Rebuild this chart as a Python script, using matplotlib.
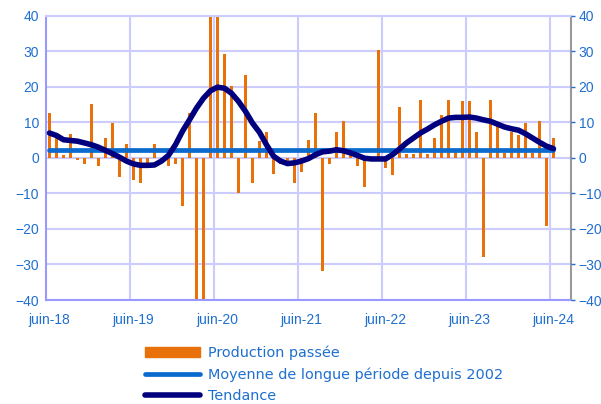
import numpy as np
import matplotlib.pyplot as plt
from matplotlib.patches import Patch
from matplotlib.lines import Line2D

# monthly, juin-2018 .. juin-2024
production = [12.6, 6.1, 0.8, 6.8, -0.6, -1.7, 15.2, -2.3, 5.7, 9.9,
              -5.4, 4.0, -6.1, -7.1, -1.4, 3.9, -1.0, -2.3, -1.7, -13.6,
              12.6, -45, -42, 42, 48, 29.3, 20.1, -9.8, 23.4, -7.0,
              4.7, 7.3, -4.4, -1.7, -1.5, -7.0, -3.9, 5.1, 12.6, -31.8,
              -1.7, 7.3, 10.5, 0.8, -2.3, -8.1, -0.5, 30.4, -2.8, -4.9,
              14.2, 1.0, 1.0, 16.4, 1.0, 5.7, 12.1, 16.4, 2.0, 15.9,
              15.9, 7.3, -28.0, 16.4, 8.9, 1.5, 7.3, 6.3, 9.8, 1.5,
              10.5, -19.3, 5.7]
tendance = [7.0, 6.3, 5.1, 4.9, 4.7, 4.2, 3.7, 3.0, 2.1, 1.2,
            0.2, -0.9, -1.7, -2.1, -2.1, -2.0, -0.9, 0.7, 3.7, 7.5,
            10.7, 14.0, 16.8, 18.9, 19.9, 19.6, 18.2, 15.9, 13.1, 9.8,
            7.2, 3.7, 0.5, -0.9, -1.6, -1.4, -0.9, -0.2, 0.9, 1.7,
            1.9, 2.3, 2.0, 1.4, 0.7, -0.1, -0.3, -0.3, -0.3, 0.9,
            2.5, 4.2, 5.6, 7.0, 8.1, 9.3, 10.3, 11.2, 11.4, 11.4,
            11.5, 11.2, 10.7, 10.3, 9.5, 8.7, 8.2, 7.8, 6.8, 5.6,
            4.4, 3.3, 2.6]
moyenne = 2.3
xlabels = ['juin-18', 'juin-19', 'juin-20', 'juin-21', 'juin-22', 'juin-23', 'juin-24']
yticks = [-40, -30, -20, -10, 0, 10, 20, 30, 40]

ORANGE = '#E8710A'
BLUE = '#0A6ACD'
NAVY = '#00007F'
TXT = '#1F6FD0'
GRID = '#CCCCFF'


def main():
    plt.rcParams['font.family'] = ['Liberation Sans', 'DejaVu Sans']
    fig = plt.figure(figsize=(6.01, 4.04), dpi=100)
    ax = fig.add_axes([0.0765, 0.2574, 0.8735, 0.7036])

    n = len(production)
    x = np.arange(n)
    ax.bar(x, production, width=0.48, color=ORANGE, zorder=2)
    ax.plot(x, [moyenne] * n, color=BLUE, lw=3.4, solid_capstyle='round', zorder=3)
    ax.plot(x, tendance, color=NAVY, lw=4.0, solid_capstyle='round',
            solid_joinstyle='round', zorder=4)

    ax.set_xlim(-0.5, 74.5)
    ax.set_ylim(-40, 40)
    ax.set_yticks(yticks)
    ax.set_xticks(np.arange(0, n, 12))
    ax.set_xticklabels(xlabels)
    ax.set_xticks(np.arange(11.5, 74, 12), minor=True)
    ax.tick_params(axis='x', which='both', length=0, pad=9, labelsize=10, labelcolor=TXT)
    ax.tick_params(axis='y', length=0, pad=5, labelsize=10, labelcolor=TXT)
    ax.grid(axis='y', which='major', color=GRID, lw=1.5, zorder=0)
    ax.grid(axis='x', which='minor', color=GRID, lw=1.5, zorder=0)
    for s in ['left', 'bottom']:
        ax.spines[s].set_color('#9999FF')
        ax.spines[s].set_linewidth(1.5)
    ax.spines['top'].set_color(GRID)
    ax.spines['top'].set_linewidth(1.5)
    ax.spines['right'].set_color('#999999')
    ax.spines['right'].set_linewidth(1.5)

    ar = ax.twinx()
    ar.set_ylim(-40, 40)
    ar.set_yticks(yticks)
    ar.tick_params(axis='y', length=3, width=1, color=TXT, pad=2.5, labelsize=10, labelcolor=TXT)
    for s in ar.spines.values():
        s.set_visible(False)

    handles = [Patch(color=ORANGE),
               Line2D([], [], color=BLUE, lw=3.4, solid_capstyle='round'),
               Line2D([], [], color=NAVY, lw=4.0, solid_capstyle='round')]
    labels = ['Production passée', 'Moyenne de longue période depuis 2002', 'Tendance']
    leg = fig.legend(handles, labels, loc='upper left', bbox_to_anchor=(0.241, 0.145),
                     frameon=False, borderpad=0, borderaxespad=0,
                     prop={'family': 'DejaVu Sans', 'size': 10.4},
                     handlelength=3.85, handletextpad=0.5, labelspacing=0.52)
    for t in leg.get_texts():
        t.set_color(TXT)

    fig.savefig('out.png', dpi=100)


if __name__ == "__main__":
    main()
